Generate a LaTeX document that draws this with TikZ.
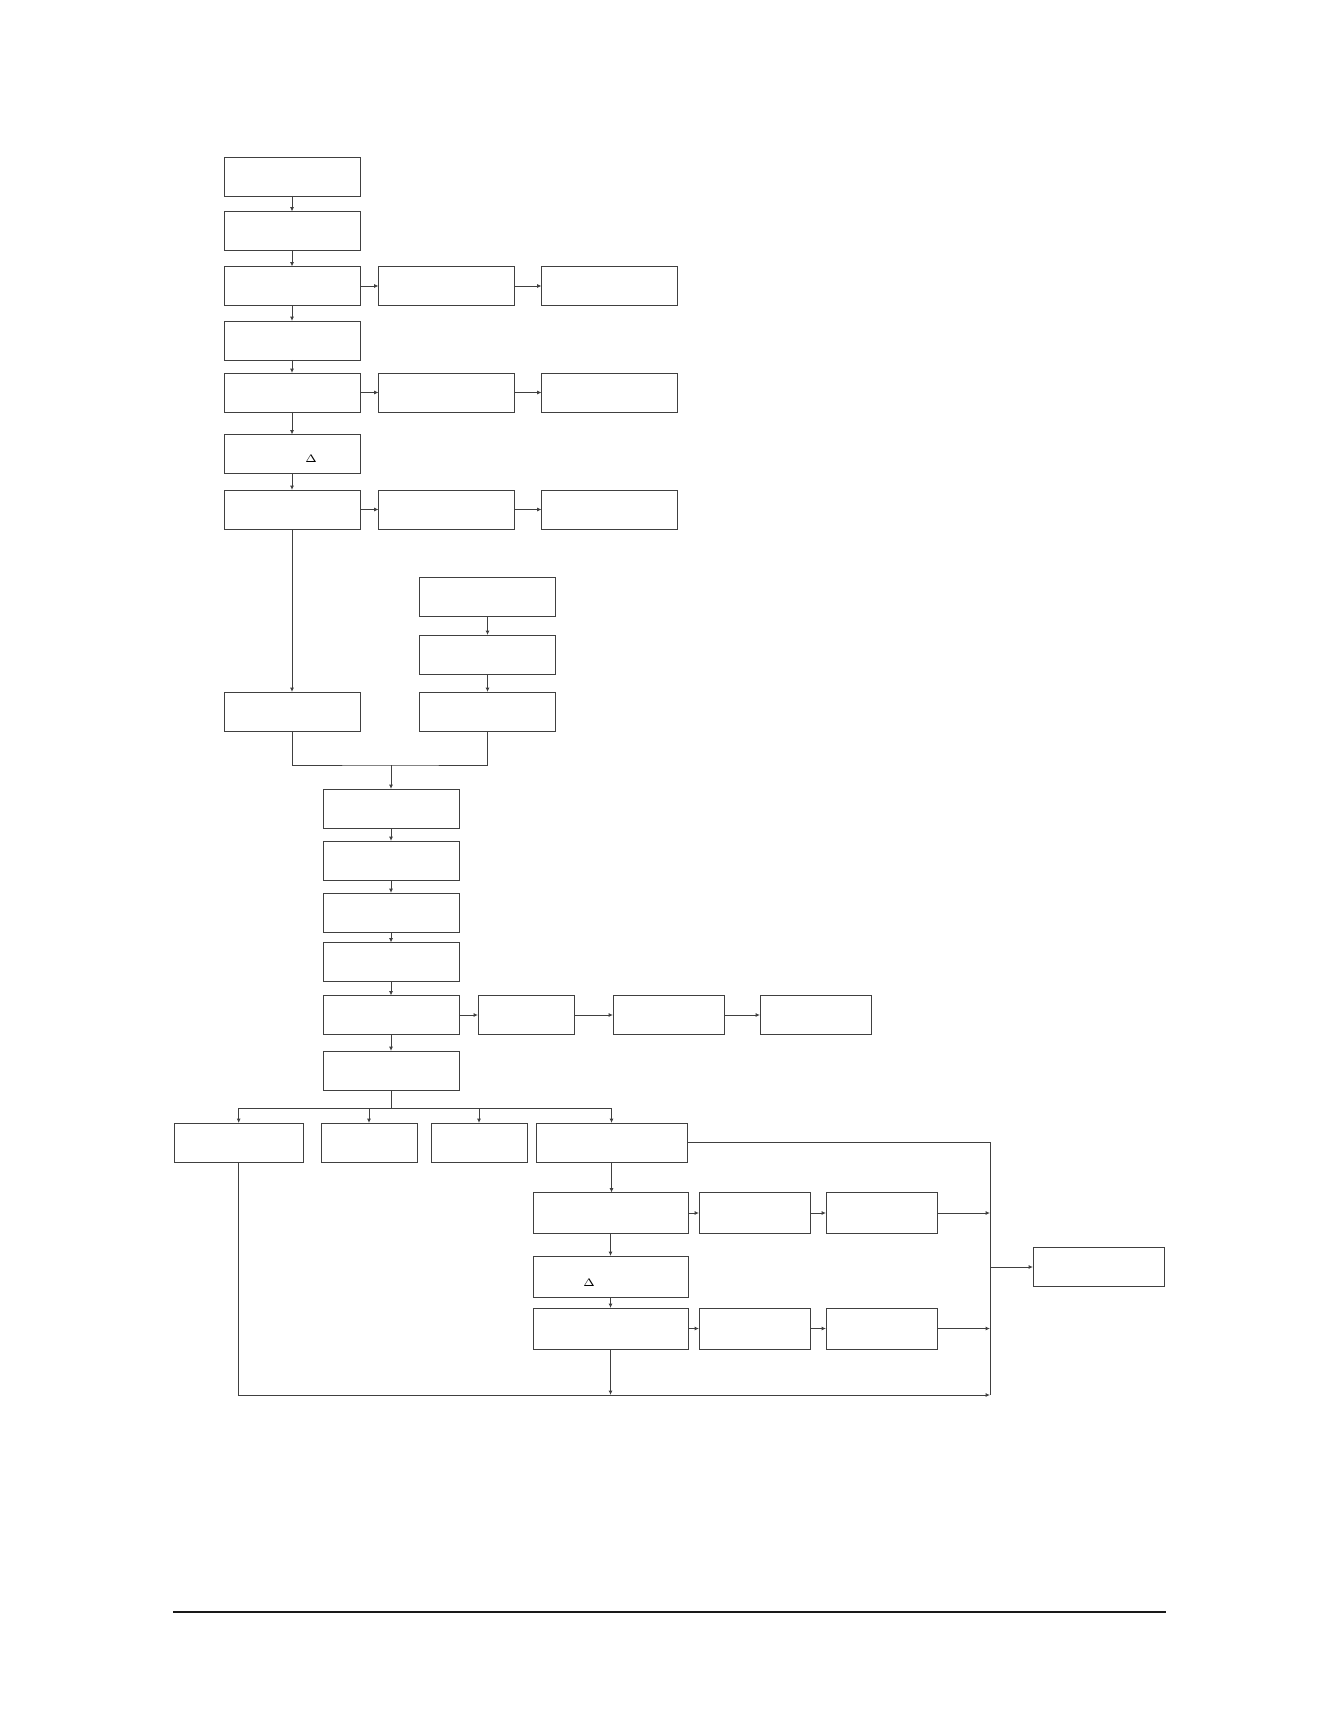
\documentclass[tikz,border=0pt]{standalone}
\usetikzlibrary{arrows.meta}
\newcommand{\pxu}{0.4591pt}

\begin{document}
\begin{tikzpicture}[x=\pxu, y=-\pxu, line width=0.45pt,
  >={Latex[length=2pt,width=1.8pt]},
  box/.style={draw=black!75, inner sep=0pt, outer sep=0pt,
    minimum width=136*\pxu, minimum height=39*\pxu},
  narrow/.style={box, minimum width=96*\pxu},
  mid/.style={box, minimum width=111*\pxu},
  tall/.style={minimum height=41*\pxu},
  link/.style={->, draw=black!75},
  tiny/.style={font=\fontsize{3.2}{4}\selectfont, inner sep=0pt}]
\useasboundingbox (0,0) rectangle (1338,1731);

% Main column
\node[box] (a1) at (292,176.5) {};
\node[box] (a2) at (292,231) {};
\node[box] (a3) at (292,286) {};
\node[box] (a4) at (292,340.5) {};
\node[box] (a5) at (292,392.5) {};
\node[box] (a6) at (292,454) {};
\node[box] (a7) at (292,509.5) {};
\node[box] (a8) at (292,711.5) {};
\node[tiny] (delta1) at (311,459) {$\Delta$};

\foreach \i in {1,...,7} {
  \pgfmathtruncatemacro{\j}{\i + 1}
  \draw[link] (a\i) -- (a\j);
}
% Side chains
\foreach \i/\y in {3/286, 5/392.5, 7/509.5} {
  \node[box] (b\i) at (446.5,\y) {};
  \node[box] (c\i) at (609.5,\y) {};
  \draw[link] (a\i) -- (b\i);
  \draw[link] (b\i) -- (c\i);
}

% Second column
\node[box] (d1) at (487.5,596.5) {};
\node[box] (d2) at (487.5,654.5) {};
\node[box] (d3) at (487.5,711.5) {};
\draw[link] (d1) -- (d2);
\draw[link] (d2) -- (d3);

% Merge
\coordinate (m) at (391,765);
\draw[draw=black!75] (a8) |- (m) -| (d3);

\node[box] (e1) at (391,808.5) {};
\node[box] (e2) at (391,860.5) {};
\node[box] (e3) at (391,912.5) {};
\node[box] (e4) at (391,962) {};
\node[box] (e5) at (391,1015) {};
\node[box] (e6) at (391,1070.5) {};
\draw[link] (m) -- (e1);
\foreach \i in {1,...,5} {
  \pgfmathtruncatemacro{\j}{\i + 1}
  \draw[link] (e\i) -- (e\j);
}
\node[narrow] (f) at (526,1015) {};
\node[mid] (g) at (668.5,1015) {};
\node[mid] (h) at (815.5,1015) {};
\draw[link] (e5) -- (f);
\draw[link] (f) -- (g);
\draw[link] (g) -- (h);

% Branches
\coordinate (br) at (391,1108);
\draw[draw=black!75] (e6) -- (br);
\node[box, minimum width=129*\pxu] (r1) at (238.7,1142.5) {};
\node[narrow] (r2) at (369,1142.5) {};
\node[narrow] (r3) at (479,1142.5) {};
\node[box, minimum width=151*\pxu] (r4) at (611.5,1142.5) {};
\foreach \k in {r1,r2,r3,r4}
  \draw[link] (br) -| (\k);

\node[box, tall, minimum width=155*\pxu] (s1) at (610.5,1213) {};
\node[box, tall, minimum width=155*\pxu] (s2) at (610.5,1276.5) {};
\node[box, tall, minimum width=155*\pxu] (s3) at (610.5,1328.5) {};
\node[tiny] (delta2) at (589,1283) {$\Delta$};
\draw[link] (r4) -- (r4 |- s1.north);
\draw[link] (s1) -- (s2);
\draw[link] (s2) -- (s3);

\foreach \i/\s/\y in {1/1/1213, 2/3/1328.5} {
  \node[mid, tall] (t\i) at (754.5,\y) {};
  \node[mid, tall] (u\i) at (881.5,\y) {};
  \draw[link] (s\s) -- (t\i);
  \draw[link] (t\i) -- (u\i);
}

% Collector
\coordinate (bt) at (990,1142.5);
\coordinate (bm) at (990,1267);
\coordinate (bb) at (990,1395);
\node[box, minimum width=131*\pxu] (v) at (1098.5,1267) {};
\draw[draw=black!75] (r4) -- (bt) -- (bb);
\draw[link] (u1) -- (u1 -| bt);
\draw[link] (u2) -- (u2 -| bt);
\draw[link] (bm) -- (v);
\draw[link] (r1) |- (bb);
\draw[link] (s3) -- (s3 |- bb);

% Footer rule
\draw[line width=0.55pt, black!90] (173,1612) -- (1166,1612);
\end{tikzpicture}
\end{document}
